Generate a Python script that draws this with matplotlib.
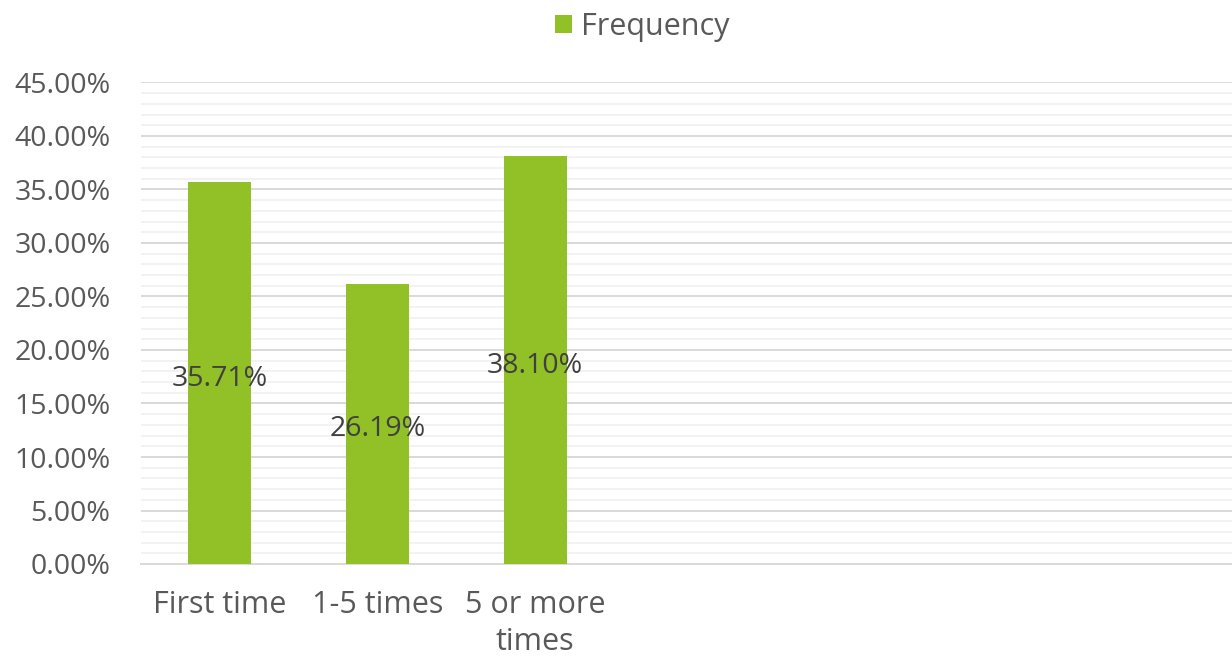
import matplotlib.pyplot as plt
import numpy as np
from matplotlib.ticker import MultipleLocator, FuncFormatter

categories = ['First time', '1-5 times', '5 or more\ntimes']
frequency = [35.71, 26.19, 38.10]
n_slots = 7  # the chart keeps room for more categories on the right

plt.rcParams['font.family'] = ['Open Sans', 'DejaVu Sans']
fs = 20.5
fs_text = 22

fig = plt.figure(figsize=(12.32, 6.57), dpi=100)
ax = fig.add_axes([141 / 1232, 93 / 657, 1 - 141 / 1232 + 0.01, (564 - 82.5) / 657])

x = np.arange(len(categories))
bars = ax.bar(x, frequency, width=0.4, color='#92C027', label='Frequency', zorder=3)

# labels in the middle of each bar
for b, v in zip(bars, frequency):
    ax.annotate(f'{v:.2f}%', (b.get_x() + b.get_width() / 2, v / 2), xytext=(0, -4),
                textcoords='offset points', ha='center', va='center',
                fontsize=fs, color='#404040', zorder=4)

ax.set_ylim(0, 45)
ax.set_xlim(-0.5, n_slots - 0.5)
ax.yaxis.set_major_locator(MultipleLocator(5))
ax.yaxis.set_minor_locator(MultipleLocator(1))
ax.yaxis.set_major_formatter(FuncFormatter(lambda v, p: f'{v:.2f}%'))
ax.grid(which='major', axis='y', color='#D9D9D9', linewidth=1.4, zorder=0)
ax.grid(which='minor', axis='y', color='#F2F2F2', linewidth=1.4, zorder=0)

ax.set_xticks(x)
ax.set_xticklabels(categories, linespacing=1.3)
ax.tick_params(axis='y', which='both', length=0, pad=22, labelsize=fs, labelcolor='#595959')
ax.tick_params(axis='x', length=0, pad=19, labelsize=fs_text, labelcolor='#595959')

for s in ['top', 'right', 'left']:
    ax.spines[s].set_visible(False)
ax.spines['bottom'].set_color('#D9D9D9')
ax.spines['bottom'].set_linewidth(1.4)

fig.legend(handles=[bars], labels=['Frequency'], loc='center', bbox_to_anchor=(642 / 1232, 1 - 27 / 657),
           frameon=False, fontsize=fs_text, labelcolor='#595959', handlelength=0.55, handleheight=0.55,
           handletextpad=0.3)

fig.savefig('out.png', dpi=100)
